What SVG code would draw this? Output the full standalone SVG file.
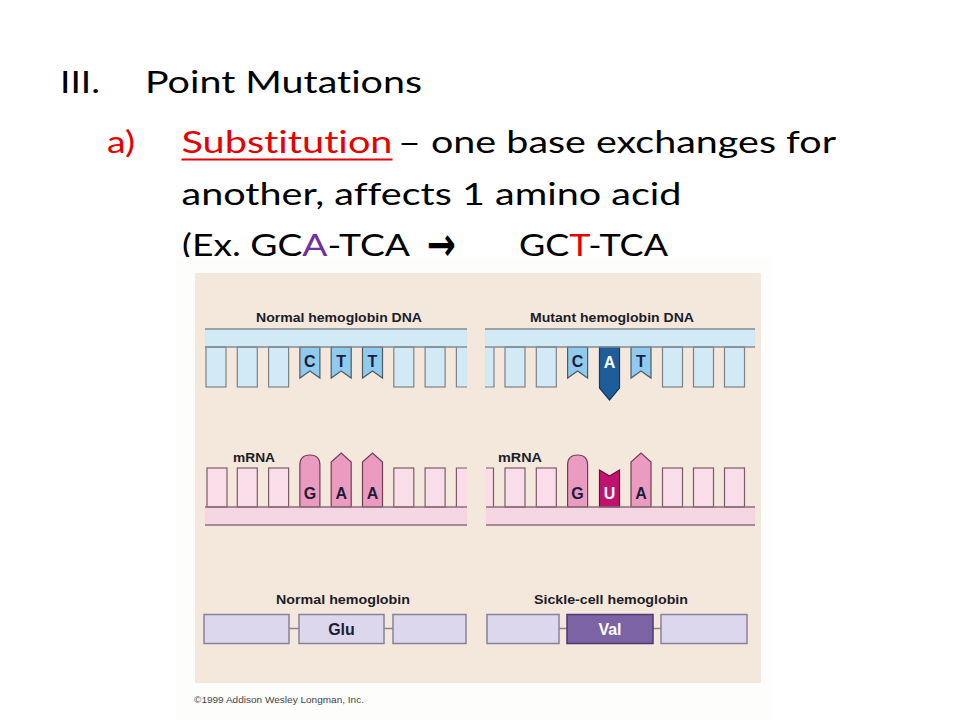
<svg xmlns="http://www.w3.org/2000/svg" width="960" height="720" viewBox="0 0 960 720">
<style>
.t{font-family:Lato,"Open Sans","Liberation Sans",sans-serif;font-size:31px;fill:#000;font-variant-ligatures:none;font-feature-settings:"liga" 0,"clig" 0}
.red{fill:#e60000}
.lb{font-family:"Liberation Sans",Arial,sans-serif;font-weight:bold;font-size:13.5px;fill:#1c1c2a}
.base{font-family:"Liberation Sans",Arial,sans-serif;font-weight:bold;font-size:16px;fill:#1c1c3a;text-anchor:middle}
.pl{font-family:"Liberation Sans",Arial,sans-serif;font-weight:bold;font-size:16px;fill:#1c1c3a;text-anchor:middle}
.dnaBand{fill:#d2e9f6}
.dnaLine{stroke:#858b92;stroke-width:1.5;fill:none}
.dt{fill:#d2e9f6;stroke:#7d8288;stroke-width:1.2}
.dtH{fill:#8ecbee;stroke:#4f5a66;stroke-width:1.2}
.dtM{fill:#1e5c9a;stroke:#0f3a66;stroke-width:1.2}
.dtS{fill:none;stroke:#7d8288;stroke-width:1.2}
.rBand{fill:#f7d6e4}
.rLine{stroke:#8a6e7a;stroke-width:1.5;fill:none}
.rt{fill:#f9dde9;stroke:#7a5c68;stroke-width:1.2}
.rtH{fill:#eb9bc0;stroke:#6e3e56;stroke-width:1.2}
.rtM{fill:#c2126f;stroke:#6e0a40;stroke-width:1.2}
.rtS{fill:none;stroke:#7a5c68;stroke-width:1.2}
.pb{fill:#dcd7ec;stroke:#85829a;stroke-width:1.5}
.pbM{fill:#7b63a5;stroke:#4a3a72;stroke-width:1.5}
.pc{stroke:#85829a;stroke-width:1.5}
</style>

<g id="title">
<text class="t" x="60" y="93" textLength="40" lengthAdjust="spacingAndGlyphs">III.</text>
<text class="t" x="145" y="93" textLength="277" lengthAdjust="spacingAndGlyphs">Point Mutations</text>
<text class="t red" x="107" y="153" textLength="28" lengthAdjust="spacingAndGlyphs">a)</text>
<text class="t red" x="181.5" y="153" textLength="211" lengthAdjust="spacingAndGlyphs">Substitution</text>
<rect x="181.5" y="158.5" width="211" height="2" fill="#e60000"/>
<text class="t" x="398" y="153" textLength="438" lengthAdjust="spacingAndGlyphs">– one base exchanges for</text>
<text class="t" x="181.5" y="205" textLength="500" lengthAdjust="spacingAndGlyphs">another, affects 1 amino acid</text>
<text class="t" x="182" y="256" textLength="228" lengthAdjust="spacingAndGlyphs">(Ex. GC<tspan fill="#7030a0">A</tspan>-TCA</text>
<text x="427" y="260" font-family="'DejaVu Sans',sans-serif" font-weight="bold" font-size="46" textLength="29" lengthAdjust="spacingAndGlyphs">→</text>
<text class="t" x="519" y="256" textLength="149" lengthAdjust="spacingAndGlyphs">GC<tspan fill="#e60000">T</tspan>-TCA</text>
</g>

<rect x="176" y="257" width="596" height="463" fill="#fdfdfc"/>
<rect x="195" y="273" width="566" height="410" fill="#f4e7db"/>

<g id="normal-dna">
<text class="lb" x="256" y="322" textLength="166" lengthAdjust="spacingAndGlyphs">Normal hemoglobin DNA</text>
<rect class="dnaBand" x="205" y="329" width="262" height="18"/>
<rect class="dt" x="206" y="347" width="20" height="40"/>
<rect class="dt" x="237.3" y="347" width="20" height="40"/>
<rect class="dt" x="268.6" y="347" width="20" height="40"/>
<path class="dtH" d="M299.9,347 V378 L309.9,371 L319.9,378 V347 Z"/>
<path class="dtH" d="M331.2,347 V378 L341.2,371 L351.2,378 V347 Z"/>
<path class="dtH" d="M362.5,347 V378 L372.5,371 L382.5,378 V347 Z"/>
<rect class="dt" x="393.8" y="347" width="20" height="40"/>
<rect class="dt" x="425.1" y="347" width="20" height="40"/>
<rect class="dnaBand" x="456.4" y="347" width="10.6" height="40"/>
<path class="dtS" d="M456.4,347 V387 H467"/>
<line class="dnaLine" x1="205" y1="329" x2="467" y2="329"/>
<line class="dnaLine" x1="205" y1="347" x2="467" y2="347"/>
<text class="base" x="309.9" y="367">C</text>
<text class="base" x="341.2" y="367">T</text>
<text class="base" x="372.5" y="367">T</text>
</g>

<g id="mutant-dna">
<text class="lb" x="530" y="322" textLength="164" lengthAdjust="spacingAndGlyphs">Mutant hemoglobin DNA</text>
<rect class="dnaBand" x="485" y="329" width="270" height="18"/>
<rect class="dnaBand" x="485" y="347" width="9" height="40"/>
<path class="dtS" d="M494,347 V387 H485"/>
<rect class="dt" x="505" y="347" width="20" height="40"/>
<rect class="dt" x="536.3" y="347" width="20" height="40"/>
<path class="dtH" d="M567.6,347 V378 L577.6,371 L587.6,378 V347 Z"/>
<path class="dtM" d="M599.5,347 V388 L609.5,400 L619.5,388 V347 Z"/>
<path class="dtH" d="M631,347 V378 L641,371 L651,378 V347 Z"/>
<rect class="dt" x="662.5" y="347" width="20" height="40"/>
<rect class="dt" x="693.5" y="347" width="20" height="40"/>
<rect class="dt" x="724.5" y="347" width="20" height="40"/>
<line class="dnaLine" x1="485" y1="329" x2="755" y2="329"/>
<line class="dnaLine" x1="485" y1="347" x2="755" y2="347"/>
<text class="base" x="577.6" y="367">C</text>
<text class="base" x="609.5" y="368" style="fill:#fff">A</text>
<text class="base" x="641" y="367">T</text>
</g>

<g id="normal-mrna">
<text class="lb" x="233" y="462" textLength="42" lengthAdjust="spacingAndGlyphs">mRNA</text>
<rect class="rBand" x="205" y="507" width="262" height="18"/>
<rect class="rt" x="207" y="468" width="20" height="39"/>
<rect class="rt" x="237.3" y="468" width="20" height="39"/>
<rect class="rt" x="268.6" y="468" width="20" height="39"/>
<path class="rtH" d="M299.9,507 V465 Q299.9,455 309.9,455 Q319.9,455 319.9,465 V507 Z"/>
<path class="rtH" d="M331.2,507 V462 L341.2,453 L351.2,462 V507 Z"/>
<path class="rtH" d="M362.5,507 V462 L372.5,453 L382.5,462 V507 Z"/>
<rect class="rt" x="393.8" y="468" width="20" height="39"/>
<rect class="rt" x="425.1" y="468" width="20" height="39"/>
<rect x="456.4" y="468" width="10.6" height="39" fill="#f9dde9"/>
<path class="rtS" d="M467,468 H456.4 V507"/>
<line class="rLine" x1="205" y1="507" x2="467" y2="507"/>
<line class="rLine" x1="205" y1="525" x2="467" y2="525"/>
<text class="base" x="309.9" y="499">G</text>
<text class="base" x="341.2" y="499">A</text>
<text class="base" x="372.5" y="499">A</text>
</g>

<g id="mutant-mrna">
<text class="lb" x="498" y="462" textLength="44" lengthAdjust="spacingAndGlyphs">mRNA</text>
<rect class="rBand" x="486" y="507" width="269" height="18"/>
<rect x="486" y="468" width="7.5" height="39" fill="#f9dde9"/>
<path class="rtS" d="M486,468 H493.5 V507"/>
<rect class="rt" x="505" y="468" width="20" height="39"/>
<rect class="rt" x="536.3" y="468" width="20" height="39"/>
<path class="rtH" d="M567.6,507 V465 Q567.6,455 577.6,455 Q587.6,455 587.6,465 V507 Z"/>
<path class="rtM" d="M599.5,507 V470 L609.5,476 L619.5,470 V507 Z"/>
<path class="rtH" d="M631,507 V462 L641,453 L651,462 V507 Z"/>
<rect class="rt" x="662.5" y="468" width="20" height="39"/>
<rect class="rt" x="693.5" y="468" width="20" height="39"/>
<rect class="rt" x="724.5" y="468" width="20" height="39"/>
<line class="rLine" x1="486" y1="507" x2="755" y2="507"/>
<line class="rLine" x1="486" y1="525" x2="755" y2="525"/>
<text class="base" x="577.6" y="499">G</text>
<text class="base" x="609.5" y="499" style="fill:#fff">U</text>
<text class="base" x="641" y="499">A</text>
</g>

<g id="connectors">
<line class="pc" x1="289" y1="628.5" x2="299" y2="628.5"/>
<line class="pc" x1="384" y1="628.5" x2="393" y2="628.5"/>
<line class="pc" x1="559" y1="628.5" x2="567" y2="628.5"/>
<line class="pc" x1="653" y1="628.5" x2="661" y2="628.5"/>
</g>

<g id="normal-hemoglobin">
<text class="lb" x="276" y="604" textLength="134" lengthAdjust="spacingAndGlyphs">Normal hemoglobin</text>
<rect class="pb" x="204" y="614.5" width="85" height="29"/>
<g id="glu"><rect class="pb" x="299" y="614.5" width="85" height="29"/>
<text class="pl" x="341.5" y="635">Glu</text></g>
<rect class="pb" x="393" y="614.5" width="73" height="29"/>
</g>

<g id="sickle-hemoglobin">
<text class="lb" x="534" y="604" textLength="154" lengthAdjust="spacingAndGlyphs">Sickle-cell hemoglobin</text>
<rect class="pb" x="487" y="614.5" width="72" height="29"/>
<g id="val"><rect class="pbM" x="567" y="614.5" width="86" height="29"/>
<text class="pl" x="610" y="635" style="fill:#fff">Val</text></g>
<rect class="pb" x="661" y="614.5" width="86" height="29"/>
</g>

<text x="194" y="703" font-family="'Liberation Sans',Arial,sans-serif" font-size="9.5" fill="#444" textLength="170" lengthAdjust="spacingAndGlyphs">©1999 Addison Wesley Longman, Inc.</text>
</svg>
